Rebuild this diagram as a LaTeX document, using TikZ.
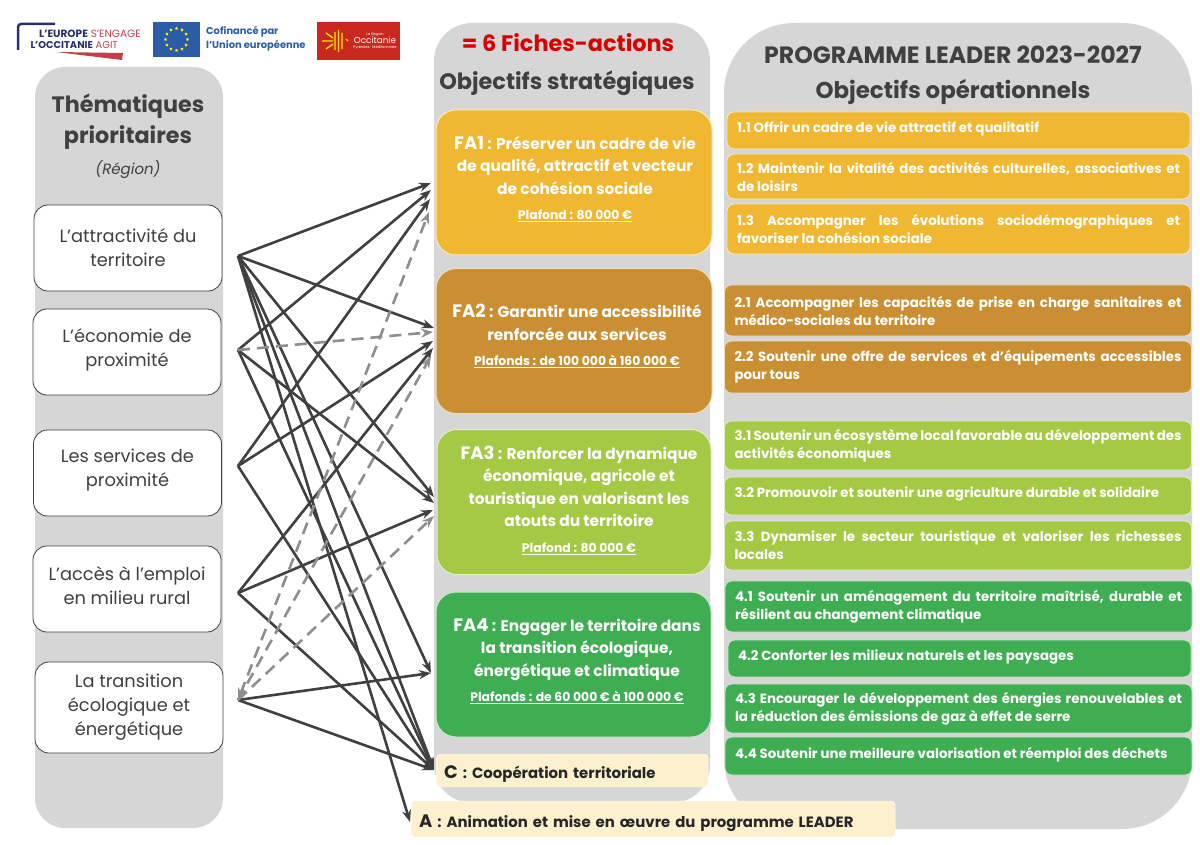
\documentclass[tikz,border=0pt]{standalone}
\usepackage{fontspec}
\setmainfont{Poppins}
\usetikzlibrary{shapes.geometric, arrows, arrows.meta, positioning, calc}

\definecolor{panelgrey}{HTML}{D6D6D6}
\definecolor{titlegrey}{HTML}{404040}
\definecolor{arrowgrey}{HTML}{404040}
\definecolor{dashgrey}{HTML}{8E8E8E}
\definecolor{ficheyellow}{HTML}{F0B732}
\definecolor{fichebrown}{HTML}{CB8F33}
\definecolor{fichelime}{HTML}{A3C945}
\definecolor{fichegreen}{HTML}{3FAE52}
\definecolor{cream}{HTML}{FDF0CF}
\definecolor{eublue}{HTML}{2A5CA8}
\definecolor{occred}{HTML}{C8281E}
\definecolor{occnavy}{HTML}{27306B}
\definecolor{occrose}{HTML}{C0404A}

\newcommand{\objfont}{\bfseries\fontsize{13.35}{18}\selectfont\hyphenpenalty 10000 \emergencystretch 40pt }
\newcommand{\plafond}[1]{{\fontsize{12.4}{18}\selectfont\underline{#1}}}
\newcommand{\bigcode}[1]{{\fontsize{18}{14}\selectfont #1}}

\begin{document}
\begin{tikzpicture}[
    x=1pt, y=-1pt,
    panel/.style={rectangle, fill=panelgrey, rounded corners=#1},
    theme/.style={rectangle, draw=black!75, line width=0.8pt, fill=white, rounded corners=14pt, minimum width=188pt},
    themetext/.style={align=center, text=titlegrey, font=\fontsize{17.8}{24}\selectfont},
    paneltitle/.style={align=center, text=titlegrey, font=\bfseries\fontsize{#1}{31}\selectfont},
    fiche/.style={rectangle, draw=white!70!#1, line width=1pt, fill=#1, rounded corners=20pt, minimum width=275pt, minimum height=145pt},
    fichetext/.style={align=center, text=white, font=\bfseries\fontsize{15.4}{22.5}\selectfont},
    objectif/.style={rectangle, draw=white!70!#1, line width=0.8pt, fill=#1, rounded corners=7pt, text width=447pt, inner xsep=10pt, align=justify, text=white, font=\objfont},
    objectifa/.style={objectif=#1, text width=443pt},
    oneline/.style={text depth=7pt},
    transverse/.style={rectangle, fill=cream, draw=white, rounded corners=4pt, anchor=west, align=left, inner xsep=8pt, text height=20pt, text depth=4pt, text=black!85, font=\bfseries\fontsize{14.9}{14}\selectfont},
    arrow/.style={-{Stealth[length=12pt,width=9pt]}, line width=2.6pt, draw=arrowgrey},
    dasharrow/.style={-{Stealth[length=12pt,width=9pt]}, line width=2.6pt, draw=dashgrey, dash pattern=on 12pt off 7pt}
]
\useasboundingbox (0,0) rectangle (1200,845);

% Logos
\draw[line width=2.5pt, occnavy, rounded corners=3pt] (18,50) -- (18,24) -- (55,24);
\fill[occrose] (56,52) -- (123,53) -- (122,60) -- cycle;
\node[anchor=east, inner sep=0pt, font=\fontsize{10.5}{12}\selectfont] (logotop) at (141,34) {\textcolor{occnavy}{\bfseries L'EUROPE} \textcolor{occrose}{S'ENGAGE}};
\node[anchor=east, inner sep=0pt, font=\fontsize{9.9}{12}\selectfont] (logobot) at (118,45) {\textcolor{occnavy}{\bfseries L'OCCITANIE} \textcolor{occrose}{AGIT}};
\node[rectangle, fill=eublue, minimum width=47pt, minimum height=35pt, inner sep=0pt] (euflag) at (176.5,39.5) {};
\foreach \i in {0,30,...,330}
    \node[star, star points=5, fill=yellow!90!orange, inner sep=0pt, minimum size=3.2pt] (eustar\i) at ($(euflag.center)+(\i:11)$) {};
\node[anchor=west, inner sep=0pt, align=left, text=eublue, font=\bfseries\fontsize{9.9}{14}\selectfont] (cofinance) at (206,39) {Cofinancé par\\l'Union européenne};
\node[rectangle, fill=occred, minimum width=83pt, minimum height=38pt, inner sep=0pt] (occlogo) at (358.5,41) {};
\draw[line width=1.4pt, yellow!85!orange] (335,32) -- (335,50) (338.5,30) -- (338.5,52) (342,33) -- (342,49) (346,39) -- (348,41) (322,41) -- (333,41) (326,33) -- (333,38) (326,49) -- (333,44);
\node[inner sep=0pt, align=center, text=white, font=\fontsize{3.6}{5}\selectfont] (occname) at (375,41) {La Région\\[0pt]{\fontsize{8.8}{9}\selectfont Occitanie}\\Pyrénées · Méditerranée};

% Panels
\node[panel=30pt, minimum width=188pt, minimum height=761pt] (leftpanel) at (129,447.5) {};
\node[panel=38pt, minimum width=276pt, minimum height=780pt] (midpanel) at (572,413) {};
\node[panel=70pt, minimum width=468pt, minimum height=806pt] (rightpanel) at (958,426) {};

% Left column
\node[paneltitle=22.3] (themetitle) at (128,122) {Thématiques\\prioritaires};
\node[text=titlegrey, font=\itshape\fontsize{15}{17}\selectfont] (region) at (128,170) {(Région)};
\node[theme, minimum height=86pt] (attract) at (128,248) {};
\node[themetext] (attracttext) at (128,248) {L'attractivité du\\territoire};
\node[theme, minimum height=86pt] (economie) at (127,352) {};
\node[themetext] (economietext) at (127,350) {L'économie de\\proximité};
\node[theme, minimum height=86pt] (services) at (127.5,473) {};
\node[themetext] (servicestext) at (127.5,470.5) {Les services de\\proximité};
\node[theme, minimum height=86pt] (emploi) at (127,589) {};
\node[themetext] (emploitext) at (127,586) {L'accès à l'emploi\\en milieu rural};
\node[theme, minimum height=91pt] (transition) at (129,707.5) {};
\node[themetext] (transitiontext) at (129,707.5) {La transition\\écologique et\\énergétique};

% Middle column
\node[text=red!85!black, font=\bfseries\fontsize{22.4}{24}\selectfont] (sixfiches) at (568,43) {= 6 Fiches-actions};
\node[paneltitle=22.4] (stratitle) at (567,83) {Objectifs stratégiques};

\node[fiche=ficheyellow, minimum width=276pt] (fa1) at (574,182.5) {};
\node[fichetext] (fa1text) at (575,179) {\bigcode{FA1} : Préserver un cadre de vie\\de qualité, attractif et vecteur\\de cohésion sociale\\[3pt]\plafond{Plafond : 80 000 €}};
\node[fiche=fichebrown, minimum width=276pt] (fa2) at (574,341) {};
\node[fichetext] (fa2text) at (577,336) {\bigcode{FA2} : Garantir une accessibilité\\renforcée aux services\\[3pt]\plafond{Plafonds : de 100 000 à 160 000 €}};
\node[fiche=fichelime, minimum width=274pt] (fa3) at (574,502) {};
\node[fichetext] (fa3text) at (579,500) {\bigcode{FA3} : Renforcer la dynamique\\économique, agricole et\\touristique en valorisant les\\atouts du territoire\\[3pt]\plafond{Plafond : 80 000 €}};
\node[fiche=fichegreen] (fa4) at (573.5,664.5) {};
\node[fichetext] (fa4text) at (577,661) {\bigcode{FA4} : Engager le territoire dans\\la transition écologique,\\énergétique et climatique\\[3pt]\plafond{Plafonds : de 60 000 € à 100 000 €}};

\node[transverse, text width=256pt, minimum height=33pt] (coop) at (436,770.5) {\bigcode{C} : Coopération territoriale};
\node[transverse, text width=468pt, minimum height=36pt] (anim) at (411,819) {\bigcode{A} : Animation et mise en œuvre du programme LEADER};

% Right column
\node[paneltitle=23.6] (progtitle) at (953,55) {PROGRAMME LEADER 2023-2027};
\node[paneltitle=22.9] (optitle) at (953,92) {Objectifs opérationnels};

\node[objectifa=ficheyellow, minimum height=37pt, oneline] (op11) at (958.5,130.5) {1.1 Offrir un cadre de vie attractif et qualitatif};
\node[objectifa=ficheyellow, minimum height=45pt] (op12) at (958.5,176.5) {1.2 Maintenir la vitalité des activités culturelles, associatives et de~loisirs};
\node[objectifa=ficheyellow, minimum height=50pt] (op13) at (958.5,229) {1.3 Accompagner les évolutions sociodémographiques et favoriser la cohésion sociale};

\node[objectif=fichebrown, minimum height=51pt] (op21) at (958,310.5) {2.1 Accompagner les capacités de prise en charge sanitaires et médico-sociales du territoire};
\node[objectif=fichebrown, minimum height=52pt] (op22) at (958,367) {2.2 Soutenir une offre de services et d'équipements accessibles pour tous};

\node[objectif=fichelime, minimum height=49pt] (op31) at (958,445.5) {3.1 Soutenir un écosystème local favorable au développement des activités économiques};
\node[objectif=fichelime, minimum height=38pt, oneline] (op32) at (958,496) {3.2 Promouvoir et soutenir une agriculture durable et solidaire};
\node[objectif=fichelime, minimum height=49pt] (op33) at (958,545.5) {3.3 Dynamiser le secteur touristique et valoriser les richesses locales};

\node[objectif=fichegreen, minimum height=51pt] (op41) at (958.5,606.5) {4.1 Soutenir un aménagement du territoire maîtrisé, durable et résilient au changement climatique};
\node[objectifa=fichegreen, minimum height=37pt, oneline] (op42) at (959.5,658.5) {4.2 Conforter les milieux naturels et les paysages};
\node[objectif=fichegreen, minimum height=49pt] (op43) at (958.5,708.5) {4.3 Encourager le développement des énergies renouvelables et la réduction des émissions de gaz à effet de serre};
\node[objectif=fichegreen, minimum height=38pt, oneline] (op44) at (958.5,756) {4.4 Soutenir une meilleure valorisation et réemploi des déchets};

% Arrow ends
\coordinate (from1) at (238,256);
\coordinate (from2) at (238,350);
\coordinate (from3) at (238,466);
\coordinate (from4) at (238,593);
\coordinate (from5) at (238,700);
\coordinate (fa1a) at (431,183);
\coordinate (fa1b) at (431,190);
\coordinate (fa1c) at (430,199);
\coordinate (fa1d) at (429,212);
\coordinate (fa2a) at (434,328);
\coordinate (fa2b) at (433,332);
\coordinate (fa2c) at (433,341);
\coordinate (fa2d) at (433,348);
\coordinate (fa2e) at (431,356);
\coordinate (fa3a) at (434,497);
\coordinate (fa3b) at (434,503);
\coordinate (fa3c) at (433,510);
\coordinate (fa3d) at (434,516);
\coordinate (fa4a) at (431,673);
\coordinate (coopin) at (434,770);
\coordinate (animin) at (410,822);

% Arrows
\draw[arrow] (from1) -- (fa1a);
\draw[arrow] (from1) -- (fa2a);
\draw[arrow] (from1) -- (fa3a);
\draw[arrow] (from1) -- (fa4a);
\draw[arrow] (from1) -- (coopin);
\draw[arrow] (from1) -- (animin);
\draw[arrow] (from2) -- (fa1b);
\draw[arrow] (from2) -- (fa3b);
\draw[arrow] (from2) -- (coopin);
\draw[arrow] (from3) -- (fa1c);
\draw[arrow] (from3) -- (fa2c);
\draw[arrow] (from3) -- (coopin);
\draw[arrow] (from4) -- (fa2d);
\draw[arrow] (from4) -- (fa3c);
\draw[arrow] (from4) -- (coopin);
\draw[arrow] (from5) -- (fa4a);
\draw[arrow] (from5) -- (coopin);
\draw[dasharrow] (from2) -- (fa2b);
\draw[dasharrow, {Stealth[length=12pt,width=9pt]}-{Stealth[length=12pt,width=9pt]}] (from5) -- (fa1d);
\draw[dasharrow] (from5) -- (fa2e);
\draw[dasharrow] (from5) -- (fa3d);

\end{tikzpicture}
\end{document}
